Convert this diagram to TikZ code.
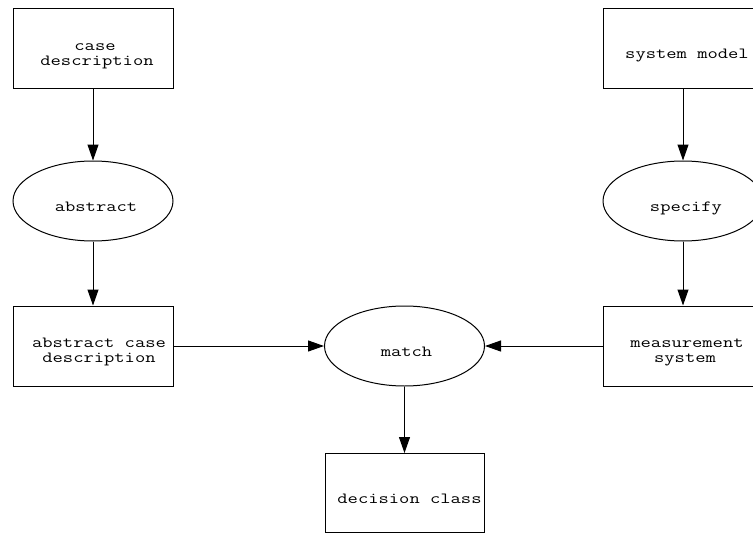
\documentclass[tikz,border=0pt]{standalone}
\usepackage{graphicx}
\usepackage{fontspec}
\newcommand{\gvtext}[1]{\scalebox{1.29}[1]{\ttfamily\fontsize{15.5}{15}\selectfont #1}}
\usetikzlibrary{arrows.meta,shapes.geometric}
\begin{document}
\begin{tikzpicture}[x=1pt,y=-1pt,
  box/.style={draw,line width=1pt,minimum width=160pt,minimum height=80pt,inner sep=0pt},
  oval/.style={draw,ellipse,line width=1pt,minimum width=160pt,minimum height=80pt,inner sep=0pt},
  lbl/.style={anchor=base,inner sep=0pt},
  edge/.style={line width=1pt,-{Triangle[length=16pt,width=11pt]}}]
\useasboundingbox (0,0) rectangle (753,533);
\begin{scope}
\clip (0,0) rectangle (753,533);
% shapes
\node[box]  (cd)  at (93,48) {};
\node[oval] (ab)  at (93,201) {};
\node[box]  (acd) at (93,346) {};
\node[box]  (sm)  at (683,48) {};
\node[oval] (sp)  at (683,201) {};
\node[box]  (ms)  at (683,346) {};
\node[oval] (mt)  at (404.5,346) {};
\node[box,minimum width=159pt,minimum height=79pt] (dc) at (404.5,493) {};
% labels
\node[lbl] (cd1)  at ([xshift=2pt,yshift=-2pt]cd.center) {\gvtext{case}};
\node[lbl] (cd2)  at ([xshift=4pt,yshift=-17pt]cd.center) {\gvtext{description}};
\node[lbl] (ab1)  at ([xshift=3pt,yshift=-10pt]ab.center) {\gvtext{abstract}};
\node[lbl] (acd1) at ([xshift=6pt,yshift=-1pt]acd.center) {\gvtext{abstract case}};
\node[lbl] (acd2) at ([xshift=6pt,yshift=-16pt]acd.center) {\gvtext{description}};
\node[lbl] (sm1)  at ([xshift=4pt,yshift=-10pt]sm.center) {\gvtext{system model}};
\node[lbl] (sp1)  at ([xshift=3pt,yshift=-10pt]sp.center) {\gvtext{specify}};
\node[lbl] (ms1)  at ([xshift=4pt,yshift=-1pt]ms.center) {\gvtext{measurement}};
\node[lbl] (ms2)  at ([xshift=2pt,yshift=-16pt]ms.center) {\gvtext{system}};
\node[lbl] (mt1)  at ([xshift=2pt,yshift=-10pt]mt.center) {\gvtext{match}};
\node[lbl] (dc1)  at ([xshift=5pt,yshift=-10pt]dc.center) {\gvtext{decision class}};
% edges
\draw[edge] (cd) -- (ab);
\draw[edge] (ab) -- (acd);
\draw[edge] (sm) -- (sp);
\draw[edge] (sp) -- (ms);
\draw[edge] (acd) -- (mt);
\draw[edge] (ms) -- (mt);
\draw[edge] (mt) -- (dc);
\end{scope}
\end{tikzpicture}
\end{document}
